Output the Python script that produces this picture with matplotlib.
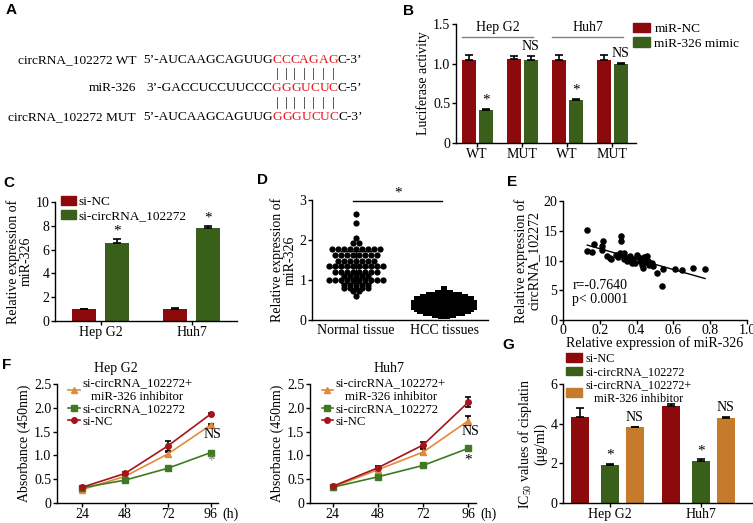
import numpy as np
import matplotlib
matplotlib.use("Agg")
import matplotlib.pyplot as plt
from matplotlib.patches import Patch
from matplotlib.lines import Line2D

# ---- A: binding sites ----
seq_names = ["circRNA_102272 WT", "miR-326", "circRNA_102272 MUT"]
seq_heads = ["5\u2019-AUCAAGCAGUUG", "3\u2019-GACCUCCUUCCC", "5\u2019-AUCAAGCAGUUG"]
seq_sites = ["CCCAGAG", "GGGUCUC", "GGGUCUC"]
seq_tails = ["C-3\u2019", "C-5\u2019", "C-3\u2019"]

# ---- B: luciferase activity ----
b_ticks = ["WT", "MUT", "WT", "MUT"]
b_cells = ["Hep G2", "Huh7"]
b_nc = [1.05, 1.06, 1.04, 1.04]
b_nc_err = [0.06, 0.04, 0.07, 0.07]
b_mimic = [0.42, 1.05, 0.54, 1.00]
b_mimic_err = [0.01, 0.05, 0.01, 0.01]
b_marks = ["*", "NS", "*", "NS"]

# ---- C: miR-326 after knockdown ----
c_cells = ["Hep G2", "Huh7"]
c_nc = [1.0, 1.05]
c_nc_err = [0.04, 0.05]
c_si = [6.55, 7.85]
c_si_err = [0.35, 0.10]

# ---- D: tissues ----
d_groups = ["Normal tissue", "HCC tissues"]
d_normal = ([2.65, 2.42, 2.05, 1.93, 1.93] + [1.77] * 9 + [1.63] * 8 + [1.48] * 7
            + [1.34] * 10 + [1.19] * 8 + [1.11] * 5 + [1.0] * 10 + [0.88] * 5
            + [0.80] * 5 + [0.72] * 2 + [0.60])
d_hcc = ([0.78] + [0.68] * 3 + [0.63] * 6 + [0.58] * 8 + [0.53] * 10 + [0.48] * 10
         + [0.43] * 11 + [0.38] * 11 + [0.33] * 11 + [0.28] * 10 + [0.23] * 9
         + [0.18] * 7 + [0.13] * 4 + [0.09] * 2)

# ---- E: correlation ----
e_mir = [0.132, 0.132, 0.156, 0.168, 0.21, 0.216, 0.21, 0.24, 0.255, 0.313, 0.313,
         0.31, 0.328, 0.33, 0.346, 0.364, 0.373, 0.382, 0.40, 0.418, 0.44, 0.455,
         0.464, 0.428, 0.436, 0.482, 0.49, 0.51, 0.545, 0.536, 0.61, 0.645, 0.708,
         0.772, 0.29, 0.35, 0.37, 0.42, 0.45, 0.47, 0.39, 0.33, 0.26, 0.30]
e_circ = [15.2, 11.55, 11.4, 12.7, 12.5, 13.2, 11.8, 10.7, 10.4, 14.2, 13.2, 11.3,
          10.9, 10.3, 9.9, 10.7, 9.6, 10.2, 11.0, 9.9, 10.6, 10.8, 10.0, 9.3, 8.8,
          9.5, 9.1, 7.9, 8.6, 5.7, 8.6, 8.4, 8.8, 8.6, 11.0, 10.4, 10.0, 10.5, 9.7,
          9.3, 9.5, 11.2, 10.2, 10.6]

# ---- F: CCK-8 ----
f_hours = [24, 48, 72, 96]
f_hep_nc = [0.33, 0.62, 1.20, 1.87]
f_hep_nc_err = [0.03, 0.03, 0.10, 0.03]
f_hep_si = [0.32, 0.48, 0.73, 1.06]
f_hep_si_err = [0.02, 0.02, 0.02, 0.04]
f_hep_combo = [0.28, 0.56, 1.03, 1.64]
f_hep_combo_err = [0.02, 0.02, 0.05, 0.02]
f_huh_nc = [0.35, 0.74, 1.22, 2.12]
f_huh_nc_err = [0.02, 0.04, 0.07, 0.10]
f_huh_si = [0.33, 0.55, 0.79, 1.15]
f_huh_si_err = [0.02, 0.03, 0.03, 0.05]
f_huh_combo = [0.33, 0.70, 1.07, 1.73]
f_huh_combo_err = [0.02, 0.03, 0.07, 0.10]

# ---- G: IC50 ----
g_cells = ["Hep G2", "Huh7"]
g_nc = [4.35, 4.90]
g_nc_err = [0.45, 0.10]
g_si = [1.93, 2.12]
g_si_err = [0.05, 0.08]
g_combo = [3.82, 4.28]
g_combo_err = [0.03, 0.08]

lab_nc = "si-NC"
lab_si = "si-circRNA_102272"
lab_combo = "si-circRNA_102272+\nmiR-326 inhibitor"

RED = "#8c0a0c"
GREEN = "#3a5f1b"
ORANGE = "#c67a2c"
LRED = "#a3141c"
LGREEN = "#3f7a22"
LORANGE = "#e08a3c"
SITE = "#e8141c"

plt.rcParams["font.family"] = ["Liberation Serif", "DejaVu Serif"]
plt.rcParams["font.size"] = 10
plt.rcParams["mathtext.fontset"] = "custom"
plt.rcParams["mathtext.rm"] = "Liberation Serif"
plt.rcParams["axes.linewidth"] = 1.0

W, H = 753, 523
fig = plt.figure(figsize=(W / 100, H / 100), dpi=100)


def px_axes(x0, y0, x1, y1):
    return fig.add_axes([x0 / W, 1 - y1 / H, (x1 - x0) / W, (y1 - y0) / H])


def style(ax):
    for s in ("top", "right"):
        ax.spines[s].set_visible(False)
    ax.tick_params(direction="out", length=3, width=1, labelsize=10, pad=1)
    ax.tick_params(axis="x", pad=0.5)


def bars(ax, x, vals, errs, color, width):
    ax.bar(x, vals, width, color=color, zorder=2)
    ax.errorbar(x, vals, yerr=[np.zeros(len(vals)), errs], fmt="none", ecolor="black",
                elinewidth=1.2, capsize=3, capthick=1.2, zorder=3)


def letter(x, y, s):
    fig.text(x / W, 1 - y / H, s, family="Liberation Sans", weight="bold",
             fontsize=11, ha="center", va="center")


def row_offsets(vals, step):
    vals = np.asarray(vals)
    xs = np.zeros(len(vals))
    for v in np.unique(vals):
        idx = np.where(vals == v)[0]
        xs[idx] = (np.arange(len(idx)) - (len(idx) - 1) / 2) * step
    return xs


# ---------------- A ----------------
ax_a = fig.add_axes([0, 1 - 130 / H, 380 / W, 130 / H])
ax_a.set_xlim(0, 380)
ax_a.set_ylim(130, 0)
ax_a.axis("off")
rows_y = [60, 88, 117]
seq_x = [143, 146, 143]
fs_a = 9.6
for i in range(3):
    y = rows_y[i]
    ax_a.text(136, y, seq_names[i], ha="right", va="center", fontsize=fs_a)
    prev = ax_a.text(seq_x[i], y, seq_heads[i], ha="left", va="center", fontsize=fs_a)
    chars = []
    for ch in seq_sites[i]:
        prev = ax_a.annotate(ch, xy=(1, 0.5), xycoords=prev, ha="left", va="center",
                             color=SITE, fontsize=fs_a)
        chars.append(prev)
    ax_a.annotate(seq_tails[i], xy=(1, 0.5), xycoords=prev, ha="left", va="center",
                  fontsize=fs_a)
    if i == 0:
        for c in chars:
            for dy in (14, 43):
                ax_a.annotate("|", xy=(0.5, 0.5), xycoords=c, xytext=(0, -dy * 0.72),
                              textcoords="offset points", ha="center", va="center",
                              fontsize=fs_a)
letter(11, 10, "A")

# ---------------- B ----------------
ax = px_axes(456, 24, 636, 143)
style(ax)
xb = np.arange(len(b_ticks))
bars(ax, xb - 0.19, b_nc, b_nc_err, RED, 0.31)
bars(ax, xb + 0.19, b_mimic, b_mimic_err, GREEN, 0.31)
for i, m in enumerate(b_marks):
    ax.text(xb[i] + 0.19, b_mimic[i] + b_mimic_err[i] + 0.03, m, ha="center",
            va="bottom", fontsize=10 if m == "NS" else 11)
ax.set_xlim(-0.47, 3.53)
ax.set_ylim(0, 1.5)
ax.set_yticks([0, 0.5, 1.0, 1.5], ["0", "0.5", "1.0", "1.5"])
ax.set_xticks(xb, b_ticks)
ax.set_ylabel("Luciferase activity", labelpad=2)
for j, cell in enumerate(b_cells):
    x0, x1 = 2 * j - 0.33, 2 * j + 1.25
    ax.plot([x0, x1], [1.34, 1.34], color="#808080", lw=1, clip_on=False)
    ax.text((x0 + x1) / 2, 1.38, cell, ha="center", va="bottom")
fig.legend([Patch(color=RED), Patch(color=GREEN)], ["miR-NC", "miR-326 mimic"],
           loc="upper left", bbox_to_anchor=(633 / W, 1 - 23 / H), frameon=False,
           borderpad=0, borderaxespad=0, handlelength=1.3, handleheight=0.7,
           handletextpad=0.3, labelspacing=0.15, fontsize=9.6)
letter(409, 11, "B")

# ---------------- C ----------------
ax = px_axes(55, 202, 237, 321)
style(ax)
xc = np.arange(len(c_cells))
bars(ax, xc - 0.185, c_nc, c_nc_err, RED, 0.265)
bars(ax, xc + 0.185, c_si, c_si_err, GREEN, 0.265)
for i in xc:
    ax.text(i + 0.185, c_si[i] + c_si_err[i] + 0.15, "*", ha="center", va="bottom",
            fontsize=11)
ax.set_xlim(-0.5, 1.5)
ax.set_ylim(0, 10)
ax.set_yticks([0, 2, 4, 6, 8, 10])
ax.set_xticks(xc, c_cells)
ax.set_ylabel("Relative expression of\nmiR-326", labelpad=2, linespacing=1.0)
ax.legend([Patch(color=RED), Patch(color=GREEN)], [lab_nc, lab_si], loc="upper left",
          bbox_to_anchor=(0.035, 1.05), frameon=False, borderpad=0, borderaxespad=0,
          handlelength=1.1, handleheight=0.6, handletextpad=0.2, labelspacing=0.15,
          fontsize=9.6)
letter(9, 183, "C")

# ---------------- D ----------------
ax = px_axes(312, 200, 488, 320)
style(ax)
for k, (vals, mk, ms) in enumerate([(d_normal, "o", 20), (d_hcc, "s", 14)]):
    xs = k + row_offsets(vals, 0.068)
    ax.scatter(xs, vals, s=ms, marker=mk, color="black", linewidths=0, zorder=3,
               clip_on=False)
    m, sd = np.mean(vals), np.std(vals)
    ax.plot([k - 0.33, k + 0.33], [m, m], color="black", lw=1, zorder=4)
    for v in (m - sd, m + sd):
        ax.plot([k - 0.17, k + 0.17], [v, v], color="black", lw=1, zorder=4)
    ax.plot([k, k], [m - sd, m + sd], color="black", lw=1, zorder=4)
ax.plot([-0.03, 0.98], [2.97, 2.97], color="black", lw=1, clip_on=False)
ax.text(0.475, 3.0, "*", ha="center", va="bottom", fontsize=11)
ax.set_xlim(-0.5, 1.5)
ax.set_ylim(0, 3)
ax.set_yticks([0, 1, 2, 3])
ax.set_xticks([0, 1], d_groups)
ax.tick_params(axis="x", length=0, pad=3)
ax.set_ylabel("Relative expression of\nmiR-326", labelpad=2, linespacing=1.0)
letter(262, 180, "D")

# ---------------- E ----------------
ax = px_axes(563, 201, 747, 320)
style(ax)
ax.scatter(e_mir, e_circ, s=22, color="black", linewidths=0, zorder=3)
k, b = np.polyfit(e_mir, e_circ, 1)
xl = np.array([min(e_mir), max(e_mir)])
ax.plot(xl, k * xl + b, color="black", lw=1)
ax.text(0.05, 5.8, "r=-0.7640", va="center")
ax.text(0.05, 3.5, "p< 0.0001", va="center")
ax.set_xlim(0, 1)
ax.set_ylim(0, 20)
ax.set_xticks([0, 0.2, 0.4, 0.6, 0.8, 1.0], ["0", "0.2", "0.4", "0.6", "0.8", "1.0"])
ax.set_yticks([0, 5, 10, 15, 20])
ax.tick_params(axis="x", pad=0)
ax.set_xlabel("Relative expression of miR-326", labelpad=-1)
ax.set_ylabel("Relative expression of\ncircRNA_102272", labelpad=2, linespacing=1.0)
letter(512, 182, "E")

# ---------------- F ----------------
f_sets = [
    ((57, 384, 218, 503), 10, "Hep G2", 0.366,
     [(f_hep_combo, f_hep_combo_err, LORANGE, "^"), (f_hep_si, f_hep_si_err, LGREEN, "s"),
      (f_hep_nc, f_hep_nc_err, LRED, "o")], (1.44, 0.88), "#888888"),
    ((310, 384, 476, 503), 12, "Huh7", 0.476,
     [(f_huh_combo, f_huh_combo_err, LORANGE, "^"), (f_huh_si, f_huh_si_err, LGREEN, "s"),
      (f_huh_nc, f_huh_nc_err, LRED, "o")], (1.50, 0.90), "black"),
]
for rect, x0, title, tx, series, (ns_y, st_y), st_col in f_sets:
    ax = px_axes(*rect)
    style(ax)
    handles = []
    for vals, errs, col, mk in series:
        ax.errorbar(f_hours, vals, yerr=errs, color=col, marker=mk, ms=4, lw=1.2,
                    ecolor="black", elinewidth=1.2, capsize=2.5, capthick=1.2)
        handles.append(Line2D([], [], color=col, marker=mk, ms=4, lw=1.2))
    ax.text(97, ns_y, "NS", ha="center", va="center")
    ax.text(96, st_y, "*", ha="center", va="center", color=st_col, fontsize=11)
    ax.set_xlim(x0, 100)
    ax.set_ylim(0, 2.5)
    ax.set_xticks(f_hours)
    ax.set_yticks([0, 0.5, 1.0, 1.5, 2.0, 2.5], ["0", "0.5", "1.0", "1.5", "2.0", "2.5"])
    ax.set_ylabel("Absorbance (450nm)", labelpad=2)
    ax.annotate("(h)", xy=(1, 0), xycoords="axes fraction", xytext=(3, -3.5),
                textcoords="offset points", ha="left", va="top")
    ax.text(tx, 1.13, title, transform=ax.transAxes, ha="center", va="center")
    leg = ax.legend(handles, [lab_combo, lab_si, lab_nc], loc="upper left",
                    bbox_to_anchor=(0.07, 1.06), frameon=False, borderpad=0,
                    borderaxespad=0, handlelength=0.9, handletextpad=0.2,
                    labelspacing=0.05, fontsize=9.2)
    leg.get_texts()[0].set_multialignment("center")
letter(7, 365, "F")

# ---------------- G ----------------
ax = px_axes(563, 384, 752, 503)
style(ax)
xg = np.arange(len(g_cells))
bars(ax, xg - 0.33, g_nc, g_nc_err, RED, 0.2)
bars(ax, xg, g_si, g_si_err, GREEN, 0.2)
bars(ax, xg + 0.27, g_combo, g_combo_err, ORANGE, 0.2)
for i in xg:
    ax.text(i, g_si[i] + g_si_err[i] + 0.1, "*", ha="center", va="bottom", fontsize=11)
    ax.text(i + 0.27, g_combo[i] + g_combo_err[i] + 0.15, "NS", ha="center", va="bottom")
ax.set_xlim(-0.52, 1.56)
ax.set_ylim(0, 6)
ax.set_yticks([0, 2, 4, 6])
ax.set_xticks(xg, g_cells)
ax.set_ylabel("IC$_{\\mathrm{50}}$ values of cisplatin\n(\u03bcg/ml)", labelpad=2,
              linespacing=1.0)
leg = fig.legend([Patch(color=RED), Patch(color=GREEN), Patch(color=ORANGE)],
                 [lab_nc, lab_si, lab_combo], loc="upper left",
                 bbox_to_anchor=(566 / W, 1 - 353 / H), frameon=False, borderpad=0,
                 borderaxespad=0, handlelength=1.3, handleheight=0.7,
                 handletextpad=0.3, labelspacing=0.1, fontsize=8.8)
leg.get_texts()[2].set_multialignment("center")
letter(508, 345, "G")

fig.savefig("out.png", dpi=100)
